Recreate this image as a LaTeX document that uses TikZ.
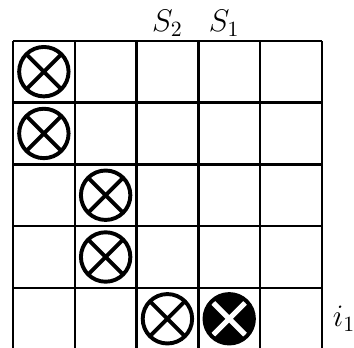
\documentclass[tikz,border=0pt]{standalone}
\usetikzlibrary{positioning}

\begin{document}
\begin{tikzpicture}[
    gridline/.style={line width=1.1pt, black},
    site/.style={circle, draw=black, line width=1.8pt, minimum size=0.8cm, inner sep=0pt,
        path picture={\draw[line width=1.8pt] (path picture bounding box.north west) -- (path picture bounding box.south east)
            (path picture bounding box.south west) -- (path picture bounding box.north east);}},
    target/.style={circle, draw=black, fill=black, line width=1.8pt, minimum size=0.8cm, inner sep=0pt,
        path picture={\draw[white, line width=2.4pt] (path picture bounding box.north west) -- (path picture bounding box.south east)
            (path picture bounding box.south west) -- (path picture bounding box.north east);}},
    lbl/.style={font=\Large}
]

% Frame of the picture
\useasboundingbox (-0.21,0.04) rectangle (5.52,5.66);

% Grid (open at the bottom)
\foreach \x in {0,...,5} {
    \draw[gridline] (\x,0) -- (\x,5);
}
\foreach \y in {1,...,5} {
    \draw[gridline] (0,\y) -- (5,\y);
}

% Occupied cells
\node[site] at (0.5,4.5) (c1) {};
\node[site] at (0.5,3.5) (c2) {};
\node[site] at (1.5,2.5) (c3) {};
\node[site] at (1.5,1.5) (c4) {};
\node[site] at (2.5,0.5) (c5) {};
\node[target] at (3.5,0.5) (c6) {};

% Labels
\node[lbl] at (2.5,5.28) (s2) {$S_2$};
\node[lbl] at (3.42,5.28) (s1) {$S_1$};
\node[lbl] at (5.36,0.5) (i1) {$i_1$};

\end{tikzpicture}
\end{document}
